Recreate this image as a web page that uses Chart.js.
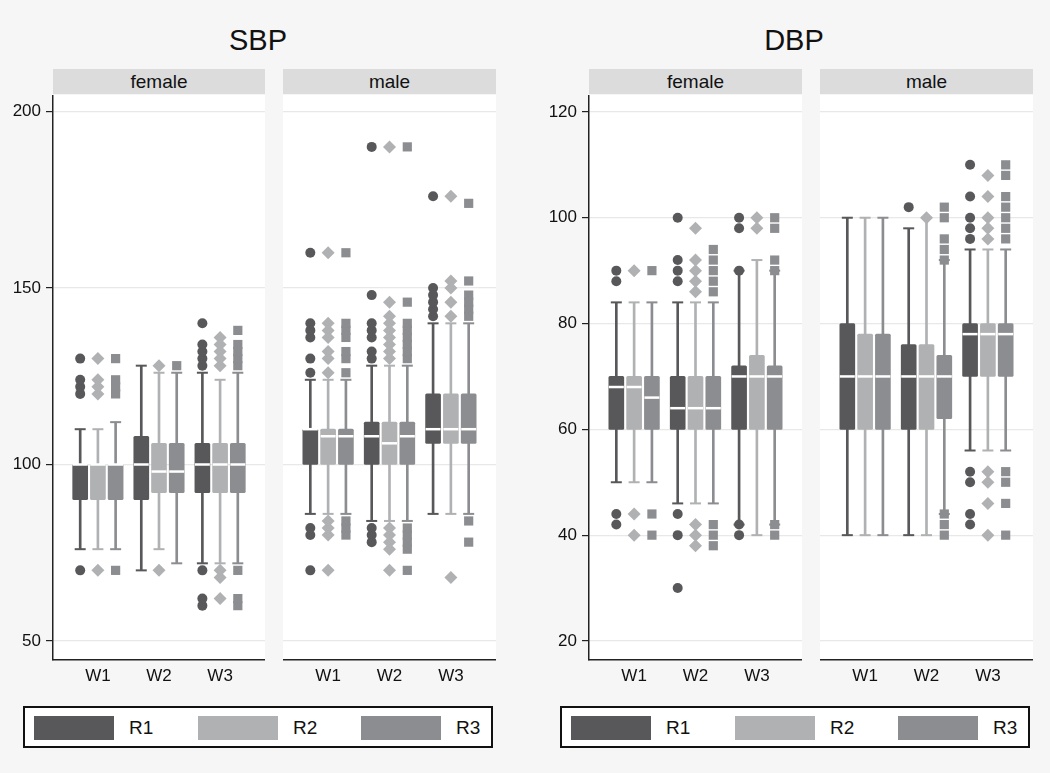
<!DOCTYPE html>
<html>
<head>
<meta charset="utf-8">
<script src="https://cdn.jsdelivr.net/npm/chart.js@4.4.1/dist/chart.umd.min.js"></script>
<style>
  body { margin: 0; background: #f6f6f6; font-family: "Liberation Sans", Arial, sans-serif; color: #111; }
  #wrap { position: relative; width: 1050px; height: 773px; overflow: hidden; }
  .title { position: absolute; top: 22px; width: 200px; font-size: 29px; line-height: 36px; text-align: center; }
  .strip { position: absolute; top: 69px; height: 25px; background: #dcdcdd; font-size: 19px; line-height: 25px; text-align: center; }
  .panel { position: absolute; top: 95px; }
  .legend { position: absolute; top: 706px; width: 466px; height: 38px; border: 2px solid #111; background: #fff; }
  .sw { position: absolute; top: 8px; width: 80px; height: 24px; }
  .lab { position: absolute; top: 8px; font-size: 19px; line-height: 24px; }
</style>
</head>
<body>
<div id="wrap">
  <div class="title" style="left:158px">SBP</div>
  <div class="title" style="left:694px">DBP</div>

  <div class="strip" style="left:53px;width:212px">female</div>
  <div class="strip" style="left:283px;width:213px">male</div>
  <div class="strip" style="left:589px;width:213px">female</div>
  <div class="strip" style="left:820px;width:213px">male</div>

  <div class="panel" style="left:0px"><canvas id="sbpF" width="265" height="600"></canvas></div>
  <div class="panel" style="left:283px"><canvas id="sbpM" width="213" height="600"></canvas></div>
  <div class="panel" style="left:520px"><canvas id="dbpF" width="282" height="600"></canvas></div>
  <div class="panel" style="left:820px"><canvas id="dbpM" width="213" height="600"></canvas></div>

  <div class="legend" id="legSbp" style="left:23px"></div>
  <div class="legend" id="legDbp" style="left:560px"></div>
</div>

<script>
const weeks = ['W1', 'W2', 'W3'];
const raters = ['R1', 'R2', 'R3'];
const sbpTicks = [50, 100, 150, 200];
const dbpTicks = [20, 40, 60, 80, 100, 120];

// each box: [lower whisker, q1, median, q3, upper whisker]; rows R1..R3, columns W1..W3
const sbpFemaleBoxes = [
  [[76, 90, 100, 100, 110], [70, 90, 100, 108, 128], [72, 92, 100, 106, 126]],
  [[76, 90, 100, 100, 110], [76, 92, 98, 106, 126], [72, 92, 100, 106, 124]],
  [[76, 90, 100, 100, 112], [72, 92, 98, 106, 126], [72, 92, 100, 106, 126]]
];
const sbpFemaleOutliers = [
  [[70, 120, 122, 124, 130], [], [60, 62, 70, 128, 130, 132, 134, 140]],
  [[70, 120, 122, 124, 130], [70, 128], [62, 68, 70, 128, 130, 132, 134, 136]],
  [[70, 120, 122, 124, 130], [128], [60, 62, 70, 128, 130, 132, 134, 138]]
];

const sbpMaleBoxes = [
  [[86, 100, 110, 110, 124], [84, 100, 108, 112, 128], [86, 106, 110, 120, 140]],
  [[86, 100, 108, 110, 124], [84, 100, 106, 112, 128], [86, 106, 110, 120, 140]],
  [[86, 100, 108, 110, 124], [84, 100, 108, 112, 128], [86, 106, 110, 120, 140]]
];
const sbpMaleOutliers = [
  [[70, 80, 82, 126, 130, 136, 138, 140, 160], [78, 80, 82, 130, 132, 136, 138, 140, 148, 190], [142, 144, 146, 148, 150, 176]],
  [[70, 80, 82, 84, 126, 130, 132, 136, 138, 140, 160], [70, 76, 78, 80, 82, 130, 132, 134, 136, 138, 140, 142, 146, 190], [68, 142, 146, 150, 152, 176]],
  [[80, 82, 84, 126, 130, 132, 136, 138, 140, 160], [70, 76, 78, 80, 82, 130, 132, 134, 136, 138, 140, 146, 190], [78, 84, 142, 144, 146, 148, 152, 174]]
];

const dbpFemaleBoxes = [
  [[50, 60, 68, 70, 84], [46, 60, 64, 70, 84], [42, 60, 70, 72, 90]],
  [[50, 60, 68, 70, 84], [46, 60, 64, 70, 84], [40, 60, 70, 74, 92]],
  [[50, 60, 66, 70, 84], [46, 60, 64, 70, 84], [42, 60, 70, 72, 90]]
];
const dbpFemaleOutliers = [
  [[42, 44, 88, 90], [30, 40, 44, 88, 90, 92, 100], [40, 42, 90, 98, 100]],
  [[40, 44, 90], [38, 40, 42, 86, 88, 90, 92, 98], [98, 100]],
  [[40, 44, 90], [38, 40, 42, 86, 88, 90, 92, 94], [40, 42, 90, 92, 98, 100]]
];

const dbpMaleBoxes = [
  [[40, 60, 70, 80, 100], [40, 60, 70, 76, 98], [56, 70, 78, 80, 94]],
  [[40, 60, 70, 78, 100], [40, 60, 70, 76, 100], [56, 70, 78, 80, 94]],
  [[40, 60, 70, 78, 100], [44, 62, 70, 74, 92], [56, 70, 78, 80, 94]]
];
const dbpMaleOutliers = [
  [[], [102], [42, 44, 50, 52, 96, 98, 100, 104, 110]],
  [[], [100], [40, 46, 50, 52, 96, 98, 100, 104, 108]],
  [[], [40, 42, 44, 92, 94, 96, 100, 102], [40, 46, 50, 52, 96, 98, 100, 102, 104, 108, 110]]
];

const colors = ['#58585b', '#b0b1b3', '#8c8d90'];
const markers = ['circle', 'rectRot', 'rect'];
const markerRadius = [5, 6.5, 6.5];

const plotBg = {
  id: 'plotBg',
  beforeDraw(chart) {
    const {ctx, chartArea: a} = chart;
    ctx.save();
    ctx.fillStyle = '#ffffff';
    ctx.fillRect(a.left, a.top, a.right - a.left, a.bottom - a.top);
    ctx.restore();
  }
};

function buildDatasets(boxes, outliers) {
  const sets = [];
  raters.forEach((r, ri) => {
    const col = colors[ri];
    const xs = weeks.map((w, wi) => wi + 1 + (ri - 1) * 0.29);
    sets.push({
      type: 'bar', label: r + ' whisker', order: 5,
      data: boxes[ri].map((b, wi) => ({x: xs[wi], y: [b[0], b[4]]})),
      backgroundColor: col, barThickness: 2, grouped: false
    });
    sets.push({
      type: 'bar', label: r, order: 4,
      data: boxes[ri].map((b, wi) => ({x: xs[wi], y: [b[1], b[3]]})),
      backgroundColor: col, barThickness: 15, grouped: false, borderRadius: 1.5, borderSkipped: false
    });
    sets.push({
      type: 'scatter', label: r + ' caps', order: 3,
      data: boxes[ri].flatMap((b, wi) => [{x: xs[wi], y: b[0]}, {x: xs[wi], y: b[4]}]),
      pointStyle: 'line', pointRadius: 5.5, pointBorderWidth: 2, pointBorderColor: col
    });
    sets.push({
      type: 'scatter', label: r + ' median', order: 2,
      data: boxes[ri].map((b, wi) => ({x: xs[wi], y: b[2]})),
      pointStyle: 'line', pointRadius: 7.5, pointBorderWidth: 2.5, pointBorderColor: '#ffffff'
    });
    sets.push({
      type: 'scatter', label: r + ' outliers', order: 1,
      data: outliers[ri].flatMap((o, wi) => o.map(v => ({x: xs[wi], y: v}))),
      pointStyle: markers[ri], pointRadius: markerRadius[ri], pointBorderWidth: 0,
      pointBackgroundColor: col, pointBorderColor: col
    });
  });
  return sets;
}

function makePanel(id, boxes, outliers, ticks, yMin, yMax, axisWidth) {
  const showAxis = axisWidth > 0;
  new Chart(document.getElementById(id), {
    type: 'bar',
    data: {datasets: buildDatasets(boxes, outliers)},
    options: {
      responsive: false,
      animation: false,
      events: [],
      layout: {padding: 0, autoPadding: false},
      plugins: {legend: {display: false}, tooltip: {enabled: false}},
      scales: {
        x: {
          type: 'linear', offset: false, min: 0.265, max: 3.735,
          grid: {display: false, drawTicks: false},
          border: {display: true, color: '#222', width: 1.5},
          afterBuildTicks: s => { s.ticks = weeks.map((w, i) => ({value: i + 1})); },
          afterFit: s => { s.height = 35; s.paddingLeft = 0; s.paddingRight = 0; },
          ticks: {
            padding: 6, color: '#111', font: {family: 'Liberation Sans', size: 17},
            maxRotation: 0, autoSkip: false, callback: (v, i) => weeks[i]
          }
        },
        y: {
          type: 'linear', min: yMin, max: yMax,
          afterBuildTicks: s => { s.ticks = ticks.map(v => ({value: v})); },
          afterFit: s => { s.width = axisWidth; s.paddingTop = 0; s.paddingBottom = 0; },
          grid: {color: '#e8e8e8', lineWidth: 1.2, drawTicks: showAxis, tickLength: 7, tickColor: '#222', tickWidth: 1.2},
          border: {display: showAxis, color: '#222', width: 1.5},
          ticks: {display: showAxis, padding: 5, color: '#111', font: {family: 'Liberation Sans', size: 17}}
        }
      }
    },
    plugins: [plotBg]
  });
}

makePanel('sbpF', sbpFemaleBoxes, sbpFemaleOutliers, sbpTicks, 44.6, 204.7, 53);
makePanel('sbpM', sbpMaleBoxes, sbpMaleOutliers, sbpTicks, 44.6, 204.7, 0);
makePanel('dbpF', dbpFemaleBoxes, dbpFemaleOutliers, dbpTicks, 16.4, 123.2, 69);
makePanel('dbpM', dbpMaleBoxes, dbpMaleOutliers, dbpTicks, 16.4, 123.2, 0);

function buildLegend(id) {
  const el = document.getElementById(id);
  const swLeft = [9, 173, 336];
  const labLeft = [104, 268, 431];
  raters.forEach((r, i) => {
    const sw = document.createElement('div');
    sw.className = 'sw';
    sw.style.left = swLeft[i] + 'px';
    sw.style.background = colors[i];
    el.appendChild(sw);
    const lab = document.createElement('div');
    lab.className = 'lab';
    lab.style.left = labLeft[i] + 'px';
    lab.textContent = r;
    el.appendChild(lab);
  });
}
buildLegend('legSbp');
buildLegend('legDbp');
</script>
</body>
</html>
